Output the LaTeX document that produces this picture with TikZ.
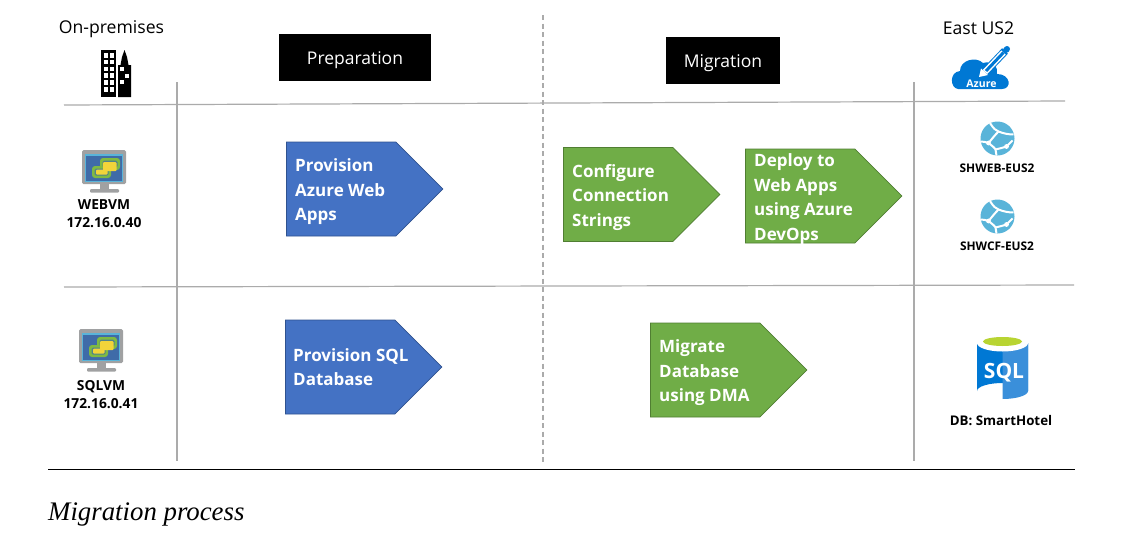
\documentclass[tikz,border=0pt]{standalone}
\usepackage{fontspec}
\setmainfont{Open Sans}
\newfontfamily\captionfont{Liberation Serif}
\usetikzlibrary{positioning,shapes.symbols}
\definecolor{ruleline}{HTML}{ABABAB}
\definecolor{planblue}{HTML}{4472C4}
\definecolor{planblueedge}{HTML}{2F528F}
\definecolor{plangreen}{HTML}{70AD47}
\definecolor{plangreenedge}{HTML}{507E32}
\definecolor{azureblue}{HTML}{0078D4}
\definecolor{azurelight}{HTML}{59B4D9}
\definecolor{sqllight}{HTML}{3A8FDA}
\definecolor{sqlgreen}{HTML}{B8D432}
\definecolor{vmgrey}{HTML}{A0A1A2}
\definecolor{vmscreen}{HTML}{3F6BA8}
\definecolor{vmedge}{HTML}{59B4D9}
\definecolor{vmgreen}{HTML}{7FBA42}
\definecolor{vmyellow}{HTML}{F2D43A}
\tikzset{
    rule/.style={draw=ruleline, line width=1.2pt},
    header/.style={fill=black, text=white, font=\fontsize{17.5}{20}\selectfont, inner sep=0pt,
        minimum height=47pt, text height=13pt, text depth=0pt},
    place/.style={font=\fontsize{17.6}{20}\selectfont, inner sep=0pt},
    hostlabel/.style={font=\fontsize{13.8}{18.5}\selectfont\bfseries, align=center, inner sep=0pt},
    applabel/.style={font=\fontsize{11.9}{14}\selectfont\bfseries, inner sep=0pt},
    plate/.style={signal, signal to=east, signal pointer angle=90, line width=0.8pt,
        minimum width=156.5pt, minimum height=94pt, inner sep=0pt, anchor=west},
    blueplate/.style={plate, fill=planblue, draw=planblueedge},
    greenplate/.style={plate, fill=plangreen, draw=plangreenedge},
    steptext/.style={font=\fontsize{17}{24.5}\selectfont\bfseries, text=white, align=left,
        anchor=west, inner sep=0pt},
    pics/vmicon/.style={code={
        \fill[vmgrey, rounded corners=1.5pt] (-22,-22) rectangle (22,12);
        \fill[vmedge] (-19,-18.5) rectangle (19,10);
        \fill[vmscreen] (-18,-16.5) rectangle (18,9);
        \fill[vmgrey] (-4,12) rectangle (5,17);
        \fill[vmgrey, rounded corners=1pt] (-14,17) rectangle (15,20.5);
        \fill[vmgreen, rounded corners=3pt] (-12,-6) rectangle (7,6);
        \fill[vmgreen, rounded corners=3pt] (-4,-14) rectangle (16,-2);
        \fill[vmscreen!70!vmgreen, rounded corners=1.5pt] (-9.5,-3.5) rectangle (4.5,3.5);
        \fill[vmscreen!70!vmgreen, rounded corners=1.5pt] (-1.5,-11.5) rectangle (13.5,-4.5);
        \fill[vmyellow, rounded corners=1pt] (-8,-2.5) rectangle (3.5,2.5);
        \fill[vmyellow, rounded corners=1pt] (-1,-10) rectangle (12.5,-1);
    }},
    pics/webicon/.style={code={
        \fill[azurelight] (0,0) circle (17);
        \draw[white, line width=2pt] (-7.5,-15.5) .. controls (-4,-10) and (-2,-8) .. (1,-7)
            .. controls (6,-5) and (11,-4) .. (16,-4);
        \draw[white, line width=2pt] (1,-7) .. controls (-3,-3) and (-6,1) .. (-9,4.5)
            .. controls (-12,3.5) and (-14,3) .. (-17,3);
        \draw[white, line width=2pt] (-9,4.5) .. controls (-6,7) and (-3,9) .. (-2,11)
            .. controls (-1.5,13) and (-1.5,15) .. (-1,17);
        \draw[white, line width=2pt] (-2,11) .. controls (2,10) and (6,9) .. (9,8)
            .. controls (11,6) and (13,4) .. (15,2);
        \fill[white] (9,8) circle (2.4) (-9,4.5) circle (2.4);
    }}
}
\begin{document}
\begin{tikzpicture}[x=1pt, y=-1pt]
    \useasboundingbox (0,0) rectangle (1122,541);

    % Grid lines
    \coordinate (top1) at (64,105);
    \coordinate (top2) at (1065,101);
    \coordinate (mid1) at (64,287);
    \coordinate (mid2) at (1074,285);
    \coordinate (v1a) at (177,82);
    \coordinate (v1b) at (177,461);
    \coordinate (v2a) at (914,82);
    \coordinate (v2b) at (914,461);
    \coordinate (v3a) at (543,15);
    \coordinate (v3b) at (543,462);
    \coordinate (base1) at (48,469.5);
    \coordinate (base2) at (1075,469.5);
    \draw[rule] (top1) -- (top2);
    \draw[rule] (mid1) -- (mid2);
    \draw[rule] (v1a) -- (v1b);
    \draw[rule] (v2a) -- (v2b);
    \draw[rule, dashed, dash pattern=on 5pt off 3.5pt] (v3a) -- (v3b);
    \draw[black, line width=0.8pt] (base1) -- (base2);

    % Headers
    \node[header, minimum width=152pt] (prep) at (355,57.5) {Preparation};
    \node[header, minimum width=114pt] (migr) at (723,60.5) {Migration};
    \node[place] (onprem) at (111.5,29) {On-premises};
    \node[place] (east) at (978.5,28) {East US2};

    % Steps
    \node[blueplate] (provweb) at (286,189) {};
    \node[steptext] (provwebtext) at ([xshift=9pt,yshift=-3pt]provweb.west) {Provision\\Azure Web\\Apps};
    \node[blueplate] (provsql) at (285,367) {};
    \node[steptext] (provsqltext) at ([xshift=8pt]provsql.west) {Provision SQL\\Database};
    \node[greenplate] (config) at (563,194.5) {};
    \node[steptext] (configtext) at ([xshift=9pt,yshift=-3pt]config.west) {Configure\\Connection\\Strings};
    \node[greenplate] (deploy) at (745,196) {};
    \node[steptext] (deploytext) at ([xshift=9pt,yshift=-3pt]deploy.west) {Deploy to\\Web Apps\\using Azure\\DevOps};
    \node[greenplate] (dma) at (650,370) {};
    \node[steptext] (dmatext) at ([xshift=9pt,yshift=-3pt]dma.west) {Migrate\\Database\\using DMA};

    % Hosts
    \pic at (104,172) {vmicon};
    \node[hostlabel] (webvm) at (104,213.5) {WEBVM\\172.16.0.40};
    \pic at (101,351) {vmicon};
    \node[hostlabel] (sqlvm) at (101,394.5) {SQLVM\\172.16.0.41};

    % Buildings
    \fill[black] (101,50) rectangle (116,97);
    \foreach \r in {0,...,5} {
        \fill[white] (103.5,{53+6.8*\r}) rectangle +(4.2,4.6);
        \fill[white] (109.7,{53+6.8*\r}) rectangle +(4.2,4.6);
    }
    \fill[black] (118,97) -- (118,65) -- (120.5,65) -- (122,57) -- (124.5,50) -- (127,57) -- (128.5,65) -- (131,65) -- (131,97) -- cycle;
    \fill[white] (119.5,67) rectangle +(4,3.5);
    \fill[white] (125,73.5) rectangle +(4,4);
    \fill[white] (119.5,80) rectangle +(4,4);

    % Azure cloud
    \fill[azureblue] (958,89) .. controls (950,88) and (949,72) .. (960,71)
        .. controls (960,60) and (976,56) .. (983,63)
        .. controls (992,60) and (999,68) .. (997,74)
        .. controls (1011,74) and (1012,89) .. (1002,89) -- cycle;
    \draw[azureblue, line width=8pt] (1005,51) -- (985,72);
    \draw[white, line width=6pt] (1003.5,52.5) -- (985,72);
    \draw[azureblue, line width=3pt] (1003.5,52.5) -- (986,71);
    \draw[azureblue, line width=6pt, line cap=round] (1006,50) -- (1007,49);
    \fill[white] (979,77) -- (981,68.5) -- (988,75) -- cycle;
    \node[text=white, font=\fontsize{10.5}{12}\selectfont\bfseries, inner sep=0pt] (azure) at (981.5,83.5) {Azure};

    % Web apps
    \pic at (997.5,138.5) {webicon};
    \node[applabel] (shweb) at (997,168) {SHWEB-EUS2};
    \pic at (997.5,216.5) {webicon};
    \node[applabel] (shwcf) at (997,246) {SHWCF-EUS2};

    % Database
    \fill[azureblue] (977,343) -- (977,391) arc[start angle=180, end angle=0, x radius=25.5, y radius=-8] -- (1028,343) -- cycle;
    \fill[sqllight] (1002.5,343) -- (1002.5,399) arc[start angle=90, end angle=0, x radius=25.5, y radius=8] -- (1028,343) -- cycle;
    \fill[white] (1002.5,343) ellipse (25.5 and 8.5);
    \fill[sqlgreen] (1002.5,341.5) ellipse (19.5 and 4.5);
    \node[text=white, font=\fontsize{21}{26}\selectfont\bfseries, inner sep=0pt] (sqltext) at (1004,373) {SQL};
    \node[hostlabel, font=\fontsize{13.3}{16}\selectfont\bfseries] (dbname) at (1001,421) {DB: SmartHotel};

    % Caption
    \node[font=\fontsize{26.8}{28}\selectfont\captionfont\itshape, anchor=base west, inner sep=0pt] (caption) at (48,520) {Migration process};
\end{tikzpicture}
\end{document}
